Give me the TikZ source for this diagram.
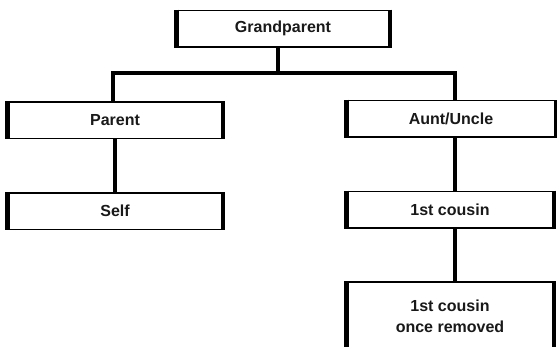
\documentclass[tikz,border=0pt]{standalone}
\usepackage{fontspec}
\setmainfont{Liberation Sans}
\begin{document}
\begin{tikzpicture}[x=1pt,y=-1pt,
  famtext/.style={font=\bfseries\fontsize{16}{21}\selectfont, text=black!90, align=center, inner sep=0pt},
  fambox/.style={famtext, draw=black, line width=1.5pt, minimum width=#1, minimum height=36.5pt},
  famside/.style={line width=4.5pt, line cap=butt},
  famlink/.style={line width=4pt}]
\clip (0,0) rectangle (557,346);
\fill[white] (0,0) rectangle (557,346);
\node[fambox=212pt] (gp) at (283,28.5) {\raisebox{-1.5pt}{Grandparent}};
\node[fambox=214pt] (par) at (115,120) {\raisebox{-1.5pt}{Parent}};
\node[fambox=214pt] (self) at (115,211) {\raisebox{-1.5pt}{Self}};
\node[fambox=208pt] (aunt) at (451,118.5) {\raisebox{-1.5pt}{Aunt/Uncle}};
\node[fambox=206pt] (cous) at (450,209.5) {\raisebox{-1.5pt}{1st cousin}};
\node[fambox=206pt, minimum height=68pt] (rem) at (450,316) {1st cousin\\once removed};
\foreach \n in {gp,par,self,aunt,cous,rem}{
  \draw[famside] (\n.north west) -- (\n.south west);
  \draw[famside] (\n.north east) -- (\n.south east);
}
\coordinate (bar) at (278,73);
\draw[famlink] ([xshift=-5pt]gp.south) -- (bar);
\draw[famlink, line join=miter] ([xshift=-2pt]par.north) |- (bar) -| ([xshift=4pt]aunt.north);
\draw[famlink] (par.south) -- (self.north);
\draw[famlink] ([xshift=4pt]aunt.south) -- ([xshift=5pt]cous.north);
\draw[famlink] ([xshift=5pt]cous.south) -- ([xshift=5pt]rem.north);
\end{tikzpicture}
\end{document}
